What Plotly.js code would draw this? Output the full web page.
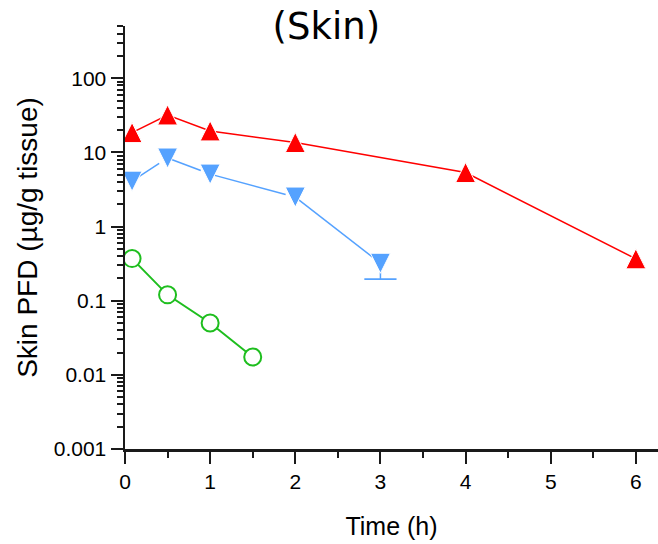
<!DOCTYPE html>
<html>
<head>
<meta charset="utf-8">
<script src="https://cdn.plot.ly/plotly-3.0.1.min.js"></script>
<style>html,body{margin:0;padding:0;background:#fff;}#chart{width:658px;height:544px;}</style>
</head>
<body>
<div id="chart"></div>
<script>
// ---- data ----
const timeRed = [0.083, 0.5, 1, 2, 4, 6];
const pfdRed = [18.5, 32, 19.5, 13.6, 5.35, 0.367];

const timeBlue = [0.083, 0.5, 1, 2, 3];
const pfdBlue = [4.1, 8.4, 5.1, 2.5, 0.32];
const sdMinusBlue = [NaN, NaN, NaN, NaN, 0.125];

const timeGreen = [0.083, 0.5, 1, 1.5];
const pfdGreen = [0.37, 0.12, 0.05, 0.0174];

const yTickVals = [0.001, 0.01, 0.1, 1, 10, 100];
const yTickText = ['0.001', '0.01', '0.1', '1', '10', '100'];
const xTickVals = [0, 1, 2, 3, 4, 5, 6];
const xTickText = ['0', '1', '2', '3', '4', '5', '6'];

// ---- styling ----
const RED = '#FF0000', BLUE = '#55A2FF', GREEN = '#1EBE1E';
const TRI = 20;

// minor ticks on the log axis: 2..9 within every decade
const yMinor = [];
for (let e = -3; e <= 2; e++) for (let m = 2; m <= 9; m++) yMinor.push(m * Math.pow(10, e));

// lower-cap positions for the blue error bar
const capX = [], capY = [];
timeBlue.forEach((t, i) => { if (isFinite(sdMinusBlue[i])) { capX.push(t); capY.push(pfdBlue[i] - sdMinusBlue[i]); } });

const traces = [
  {
    x: timeGreen, y: pfdGreen, mode: 'lines+markers', type: 'scatter',
    line: {color: GREEN, width: 2},
    marker: {symbol: 'circle', size: 17, color: '#FFFFFF', line: {color: GREEN, width: 2}},
    showlegend: false, hoverinfo: 'skip'
  },
  {
    x: capX, y: capY, mode: 'markers', type: 'scatter',
    marker: {symbol: 'line-ew', size: 23, color: BLUE, line: {color: BLUE, width: 1.8}},
    showlegend: false, hoverinfo: 'skip'
  },
  {
    x: timeBlue, y: pfdBlue, mode: 'lines+markers', type: 'scatter',
    line: {color: BLUE, width: 1.5},
    error_y: {type: 'data', symmetric: false, array: sdMinusBlue.map(v => isFinite(v) ? 0 : NaN),
              arrayminus: sdMinusBlue, width: 0, thickness: 1.5, color: BLUE},
    marker: {symbol: 'arrow-down', size: TRI, standoff: TRI / 2, angle: 0, color: BLUE,
             line: {color: '#FFFFFF', width: 1}},
    showlegend: false, hoverinfo: 'skip'
  },
  {
    x: timeRed, y: pfdRed, mode: 'lines+markers', type: 'scatter',
    line: {color: RED, width: 1.5},
    marker: {symbol: 'arrow-down', size: TRI, standoff: TRI / 2, angle: 180, color: RED,
             line: {color: '#FFFFFF', width: 1}},
    showlegend: false, hoverinfo: 'skip'
  }
];

const tickFont = {family: 'Liberation Sans, Arial, sans-serif', size: 21, color: '#000'};
const AX = '#1a1a1a';

const layout = {
  width: 658, height: 544,
  margin: {l: 125, r: 0, t: 26, b: 95, pad: 0},
  paper_bgcolor: '#fff', plot_bgcolor: '#fff',
  showlegend: false,
  title: {
    text: '(Skin)', font: {family: 'DejaVu Sans, Verdana, sans-serif', size: 37, color: '#000'},
    xref: 'container', x: 0.496, xanchor: 'center',
    yref: 'container', y: 0.952, yanchor: 'middle'
  },
  xaxis: {
    range: [0, 6.26], tickmode: 'array', tickvals: xTickVals, ticktext: xTickText,
    ticks: 'outside', ticklen: 12, tickwidth: 2, tickcolor: AX,
    minor: {dtick: 0.5, tick0: 0, ticks: 'outside', ticklen: 6, tickwidth: 2, tickcolor: AX, showgrid: false},
    showline: true, linewidth: 2.5, linecolor: AX, showgrid: false, zeroline: false,
    tickfont: tickFont,
    title: {text: 'Time (h)', font: {family: 'Liberation Sans, Arial, sans-serif', size: 25, color: '#000'}, standoff: 26}
  },
  yaxis: {
    type: 'log', range: [-3, 2.705], tickmode: 'array', tickvals: yTickVals, ticktext: yTickText,
    ticks: 'outside', ticklen: 12, tickwidth: 2, tickcolor: AX,
    minor: {tickmode: 'array', tickvals: yMinor, ticks: 'outside', ticklen: 6, tickwidth: 2, tickcolor: AX, showgrid: false},
    showline: true, linewidth: 2.5, linecolor: AX, showgrid: false, zeroline: false,
    tickfont: tickFont,
    title: {text: 'Skin PFD (µg/g tissue)', font: {family: 'Liberation Sans, Arial, sans-serif', size: 28, color: '#000'}, standoff: 8}
  }
};

Plotly.newPlot('chart', traces, layout, {displayModeBar: false, staticPlot: true});
</script>
</body>
</html>
